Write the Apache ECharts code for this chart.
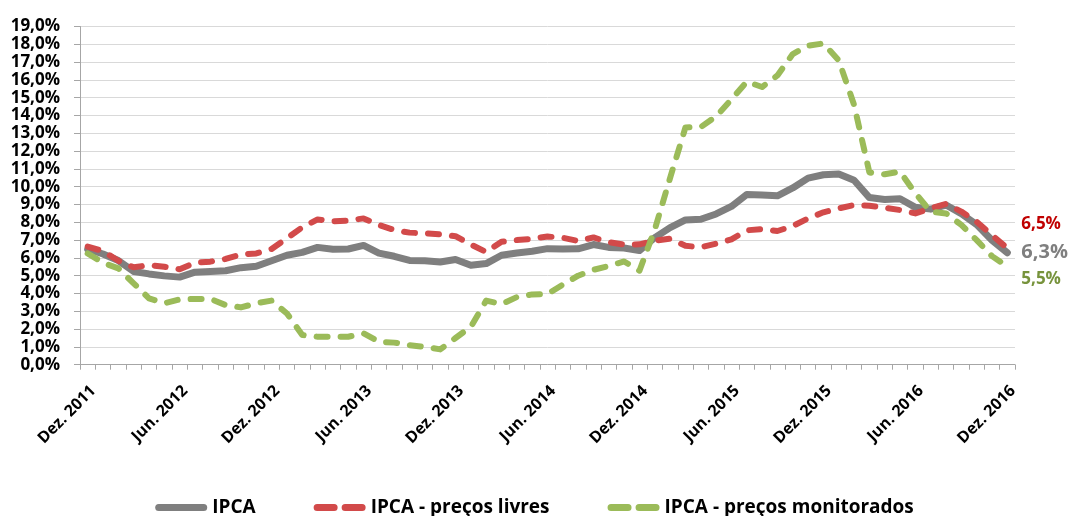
<!DOCTYPE html>
<html>
<head>
<meta charset="utf-8">
<script src="https://cdn.jsdelivr.net/npm/echarts@6/dist/echarts.min.js"></script>
<style>
  html, body { margin: 0; padding: 0; background: #fff; }
  #chart { width: 1069px; height: 516px; }
</style>
</head>
<body>
<div id="chart"></div>
<script>
// meses (dez/2011 a dez/2016)
var months = [
  'Dez. 2011',
  'Jan. 2012', 'Fev. 2012', 'Mar. 2012', 'Abr. 2012', 'Mai. 2012', 'Jun. 2012', 'Jul. 2012', 'Ago. 2012', 'Set. 2012', 'Out. 2012', 'Nov. 2012', 'Dez. 2012',
  'Jan. 2013', 'Fev. 2013', 'Mar. 2013', 'Abr. 2013', 'Mai. 2013', 'Jun. 2013', 'Jul. 2013', 'Ago. 2013', 'Set. 2013', 'Out. 2013', 'Nov. 2013', 'Dez. 2013',
  'Jan. 2014', 'Fev. 2014', 'Mar. 2014', 'Abr. 2014', 'Mai. 2014', 'Jun. 2014', 'Jul. 2014', 'Ago. 2014', 'Set. 2014', 'Out. 2014', 'Nov. 2014', 'Dez. 2014',
  'Jan. 2015', 'Fev. 2015', 'Mar. 2015', 'Abr. 2015', 'Mai. 2015', 'Jun. 2015', 'Jul. 2015', 'Ago. 2015', 'Set. 2015', 'Out. 2015', 'Nov. 2015', 'Dez. 2015',
  'Jan. 2016', 'Fev. 2016', 'Mar. 2016', 'Abr. 2016', 'Mai. 2016', 'Jun. 2016', 'Jul. 2016', 'Ago. 2016', 'Set. 2016', 'Out. 2016', 'Nov. 2016', 'Dez. 2016'
];

// IPCA acumulado em 12 meses (%)
var ipca = [
  6.50,
  6.22, 5.85, 5.24, 5.10, 4.99, 4.92, 5.20, 5.24, 5.28, 5.45, 5.53, 5.84,
  6.15, 6.31, 6.59, 6.49, 6.50, 6.70, 6.27, 6.09, 5.86, 5.84, 5.77, 5.91,
  5.59, 5.68, 6.15, 6.28, 6.37, 6.52, 6.50, 6.51, 6.75, 6.59, 6.56, 6.41,
  7.14, 7.70, 8.13, 8.17, 8.47, 8.89, 9.56, 9.53, 9.49, 9.93, 10.48, 10.67,
  10.71, 10.36, 9.39, 9.28, 9.32, 8.84, 8.74, 8.97, 8.48, 7.87, 6.99, 6.29
];

// precos livres
var livres = [
  6.63,
  6.38, 5.84, 5.47, 5.60, 5.50, 5.36, 5.73, 5.79, 5.94, 6.20, 6.25, 6.50,
  7.10, 7.72, 8.16, 8.06, 8.09, 8.22, 7.85, 7.57, 7.42, 7.38, 7.32, 7.22,
  6.75, 6.33, 6.91, 7.00, 7.07, 7.20, 7.13, 6.95, 7.15, 6.88, 6.75, 6.76,
  6.97, 7.08, 6.68, 6.60, 6.80, 7.04, 7.55, 7.62, 7.51, 7.79, 8.22, 8.56,
  8.78, 8.97, 8.93, 8.82, 8.69, 8.50, 8.78, 9.03, 8.60, 8.03, 7.28, 6.54
];

// precos monitorados
var monitorados = [
  6.25,
  5.73, 5.41, 4.57, 3.73, 3.45, 3.67, 3.69, 3.70, 3.35, 3.22, 3.45, 3.60,
  2.88, 1.67, 1.57, 1.57, 1.57, 1.76, 1.29, 1.24, 1.10, 1.00, 0.86, 1.50,
  2.13, 3.60, 3.40, 3.80, 3.95, 3.97, 4.50, 5.00, 5.33, 5.55, 5.80, 5.28,
  7.60, 10.50, 13.33, 13.35, 13.95, 14.90, 15.90, 15.60, 16.25, 17.45, 17.92, 18.05,
  17.10, 14.60, 10.80, 10.70, 10.85, 9.63, 8.60, 8.50, 7.85, 7.00, 6.10, 5.52
];

var FONT = 'Open Sans';

// icones da legenda: barra cheia e dois tracos arredondados
var ICON_SOLID = 'path://M3.5,0H48.5A3.5,3.5,0,0,1,48.5,7H3.5A3.5,3.5,0,0,1,3.5,0Z';
var ICON_DASH = 'path://M3.5,0H20.5A3.5,3.5,0,0,1,20.5,7H3.5A3.5,3.5,0,0,1,3.5,0Z' +
  'M31.5,0H48.5A3.5,3.5,0,0,1,48.5,7H31.5A3.5,3.5,0,0,1,31.5,0Z';

function pct(v) {
  return v.toFixed(1).replace('.', ',') + '%';
}

var chart = echarts.init(document.getElementById('chart'));

var option = {
  animation: false,
  backgroundColor: '#ffffff',
  textStyle: { fontFamily: FONT },
  grid: {
    left: 80,
    right: 54,
    top: 26.5,
    bottom: 151.3,
    outerBoundsMode: 'none'
  },
  legend: {
    top: 493,
    left: 'center',
    itemGap: 58,
    itemWidth: 52,
    itemHeight: 7,
    textStyle: { fontFamily: FONT, fontWeight: 'bold', fontSize: 19, color: '#000' },
    data: [
      { name: 'IPCA', icon: ICON_SOLID },
      { name: 'IPCA - preços livres', icon: ICON_DASH },
      { name: 'IPCA - preços monitorados', icon: ICON_DASH }
    ]
  },
  xAxis: {
    type: 'category',
    boundaryGap: true,
    data: months,
    axisLine: { lineStyle: { color: '#A6A6A6', width: 1 } },
    axisTick: { show: true, interval: 0, length: 5, lineStyle: { color: '#A6A6A6' } },
    axisLabel: {
      interval: 5,
      rotate: 45,
      margin: 18,
      verticalAlign: 'top',
      fontFamily: FONT,
      fontWeight: 'bold',
      fontSize: 16,
      color: '#000'
    },
    splitLine: { show: false }
  },
  yAxis: {
    type: 'value',
    min: 0,
    max: 19,
    interval: 1,
    axisLine: { show: true, lineStyle: { color: '#A6A6A6', width: 1 } },
    axisTick: { show: true, length: 6, lineStyle: { color: '#A6A6A6' } },
    axisLabel: {
      margin: 20,
      formatter: pct,
      fontFamily: FONT,
      fontWeight: 'bold',
      fontSize: 17,
      color: '#000'
    },
    splitLine: { lineStyle: { color: '#D9D9D9', width: 1 } }
  },
  series: [
    {
      name: 'IPCA',
      type: 'line',
      data: ipca,
      symbol: 'none',
      color: '#7F7F7F',
      lineStyle: { width: 7, color: '#7F7F7F', cap: 'round', join: 'round' },
      endLabel: {
        show: true,
        distance: 14,
        formatter: function (p) { return pct(p.value); },
        fontFamily: FONT,
        fontWeight: 'bold',
        fontSize: 20,
        color: '#7F7F7F'
      }
    },
    {
      name: 'IPCA - preços livres',
      type: 'line',
      data: livres,
      symbol: 'none',
      color: '#D24A4A',
      lineStyle: { width: 6, color: '#D24A4A', type: [11, 13], cap: 'round', join: 'round' },
      endLabel: {
        show: true,
        distance: 14,
        offset: [0, -24],
        formatter: function (p) { return pct(p.value); },
        fontFamily: FONT,
        fontWeight: 'bold',
        fontSize: 17,
        color: '#C00000'
      }
    },
    {
      name: 'IPCA - preços monitorados',
      type: 'line',
      data: monitorados,
      symbol: 'none',
      color: '#9BBB59',
      lineStyle: { width: 6, color: '#9BBB59', type: [11, 13], cap: 'round', join: 'round' },
      endLabel: {
        show: true,
        distance: 14,
        offset: [0, 13],
        formatter: function (p) { return pct(p.value); },
        fontFamily: FONT,
        fontWeight: 'bold',
        fontSize: 17,
        color: '#77933C'
      }
    }
  ]
};

chart.setOption(option);
</script>
</body>
</html>
